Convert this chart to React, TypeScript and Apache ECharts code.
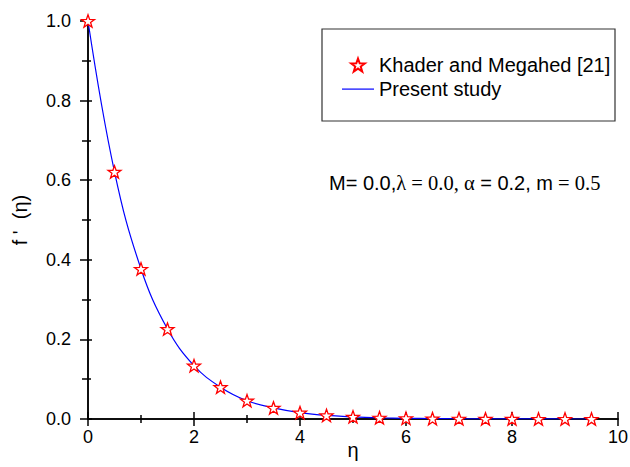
import React, { useEffect, useRef } from "react";
import * as echarts from "echarts";

const etaValues = [0, 0.5, 1, 1.5, 2, 2.5, 3, 3.5, 4, 4.5, 5, 5.5, 6, 6.5, 7, 7.5, 8, 8.5, 9, 9.5];
const khaderValues = [1.0, 0.621, 0.377, 0.226, 0.134, 0.08, 0.046, 0.028, 0.016, 0.009, 0.0055, 0.0032, 0.0018, 0.001, 0.0006, 0.0003, 0.0002, 0.0001, 0.00005, 0.00003];
const presentValues = [1.0, 0.621, 0.377, 0.226, 0.134, 0.08, 0.046, 0.028, 0.016, 0.009, 0.0055, 0.0032, 0.0018, 0.001, 0.0006, 0.0003, 0.0002, 0.0001, 0.00005, 0.00003];
const legendNames = ["Khader and Megahed [21]", "Present study"];
const xTicks = { min: 0, max: 10, interval: 2 };
const yTicks = { min: 0, max: 1, interval: 0.2 };

const STAR =
  "path://M50 0 L61.76 33.82 L97.55 34.55 L69.02 56.18 L79.39 90.45 L50 70 L20.61 90.45 L30.98 56.18 L2.45 34.55 L38.24 33.82 Z";
const LINE_ICON = "path://M0 0 M0 6 L32 6 L32 7.2 L0 7.2 Z M32 13";

export default function App() {
  const ref = useRef<HTMLDivElement>(null);
  useEffect(() => {
    if (!ref.current) return;
    const chart = echarts.init(ref.current, undefined, { renderer: "svg" });
    const axisLineStyle = { color: "#000", width: 1.5 };
    const sans = "Arial, 'Liberation Sans', sans-serif";
    const serif = "'Times New Roman', 'Liberation Serif', serif";
    chart.setOption({
      animation: false,
      backgroundColor: "#fff",
      textStyle: { fontFamily: sans },
      grid: { left: 88, right: 12, top: 21, bottom: 48, containLabel: false, outerBoundsMode: "none" },
      xAxis: [
        {
          type: "value",
          position: "bottom",
          min: xTicks.min,
          max: xTicks.max,
          interval: xTicks.interval,
          name: "η",
          nameLocation: "middle",
          nameGap: 21,
          nameMoveOverlap: false,
          nameTextStyle: { fontSize: 20, lineHeight: 20, color: "#000", fontFamily: sans },
          axisLine: { lineStyle: axisLineStyle },
          axisTick: { show: true, inside: false, length: 7, lineStyle: axisLineStyle },
          minorTick: { show: true, splitNumber: 2, length: 4, lineStyle: { color: "#000", width: 1.5 } },
          splitLine: { show: false },
          axisLabel: { fontSize: 18, color: "#000", margin: 9, fontFamily: sans },
        },
        {
          type: "value",
          position: "top",
          min: xTicks.min,
          max: xTicks.max,
          interval: xTicks.interval,
          axisLine: { lineStyle: axisLineStyle },
          axisTick: { show: true, inside: false, length: 7, lineStyle: axisLineStyle },
          minorTick: { show: true, splitNumber: 2, length: 4, lineStyle: { color: "#000", width: 1.5 } },
          splitLine: { show: false },
          axisLabel: { show: false },
        },
      ],
      yAxis: [
        {
          type: "value",
          position: "left",
          min: yTicks.min,
          max: yTicks.max,
          interval: yTicks.interval,
          name: "f '  (η)",
          nameLocation: "middle",
          nameRotate: 90,
          nameGap: 58,
          nameMoveOverlap: false,
          nameTextStyle: { fontSize: 20, lineHeight: 20, color: "#000", fontFamily: sans },
          axisLine: { lineStyle: axisLineStyle },
          axisTick: { show: true, inside: false, length: 8, lineStyle: axisLineStyle },
          minorTick: { show: true, splitNumber: 2, length: 6, lineStyle: { color: "#000", width: 1.5 } },
          splitLine: { show: false },
          axisLabel: {
            fontSize: 18,
            color: "#000",
            margin: 17,
            fontFamily: sans,
            formatter: (v: number) => v.toFixed(1),
          },
        },
        {
          type: "value",
          position: "right",
          min: yTicks.min,
          max: yTicks.max,
          interval: yTicks.interval,
          axisLine: { lineStyle: axisLineStyle },
          axisTick: { show: true, inside: false, length: 4, lineStyle: axisLineStyle },
          minorTick: { show: true, splitNumber: 2, length: 3, lineStyle: { color: "#000", width: 1.5 } },
          splitLine: { show: false },
          axisLabel: { show: false },
        },
      ],
      legend: {
        orient: "vertical",
        left: 342,
        top: 55,
        padding: 0,
        itemWidth: 32,
        itemHeight: 13,
        itemGap: 4,
        data: [{ name: legendNames[0] }, { name: legendNames[1], icon: LINE_ICON }],
        textStyle: { fontSize: 20, color: "#000", fontFamily: sans },
      },
      graphic: [
        {
          type: "rect",
          shape: { x: 322, y: 29, width: 293, height: 92 },
          style: { fill: "none", stroke: "#333", lineWidth: 1.2 },
          z: 10,
        },
        {
          type: "text",
          x: 329,
          y: 183,
          style: {
            text: "{a|M= 0.0,}{b|λ = 0.0, α}{a| = 0.2, m}{b| = 0.5}",
            verticalAlign: "middle",
            rich: {
              a: { fontSize: 20, fontFamily: sans, fill: "#000" },
              b: { fontSize: 20.5, fontFamily: serif, fill: "#000" },
            },
          },
          z: 10,
        },
      ],
      series: [
        {
          name: legendNames[1],
          type: "line",
          xAxisIndex: 0,
          yAxisIndex: 0,
          data: etaValues.map((x, i) => [x, presentValues[i]]),
          smooth: 0.4,
          symbol: "none",
          lineStyle: { color: "#0000ff", width: 1.2 },
          itemStyle: { color: "#0000ff" },
          z: 2,
        },
        {
          name: legendNames[0],
          type: "scatter",
          xAxisIndex: 0,
          yAxisIndex: 0,
          data: etaValues.map((x, i) => [x, khaderValues[i]]),
          symbol: STAR,
          symbolSize: 13,
          symbolKeepAspect: true,
          itemStyle: { color: "#fff", borderColor: "#ff0000", borderWidth: 1.3, opacity: 1 },
          z: 3,
        },
      ],
    });
    return () => chart.dispose();
  }, []);
  return (
    <div
      ref={ref}
      style={{ position: "fixed", left: 0, top: 0, width: 630, height: 467, background: "#fff" }}
    />
  );
}
